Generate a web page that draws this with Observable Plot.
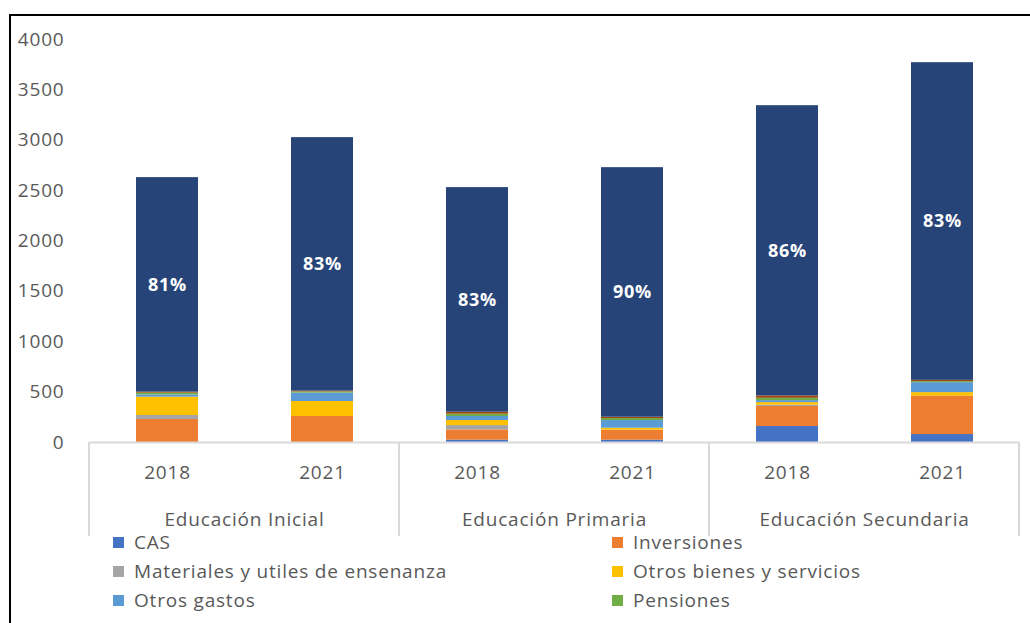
<!DOCTYPE html>
<html>
<head>
<meta charset="utf-8">
<script src="https://cdn.jsdelivr.net/npm/d3@7"></script>
<script src="https://cdn.jsdelivr.net/npm/@observablehq/plot@0.6"></script>
<style>
  html, body { margin: 0; padding: 0; background: #fff; overflow: hidden; width: 1030px; height: 623px; }
  #wrap { position: relative; width: 1030px; height: 623px; font-family: "Open Sans", sans-serif; color: #595959; }
  #chart { position: absolute; left: 0; top: 0; }
  #chart svg text { letter-spacing: 0.8px; }
  #frame { position: absolute; left: 9px; top: 14px; width: 1100px; height: 700px; border-left: 2px solid #000; border-top: 2px solid #000; pointer-events: none; }
  #legend { position: absolute; left: 0; top: 0; width: 1030px; height: 623px; overflow: hidden; pointer-events: none; }
  .item { position: absolute; display: flex; align-items: center; font-size: 19px; letter-spacing: 0.8px; white-space: nowrap; line-height: 20px; }
  .sw { width: 11px; height: 11px; margin-right: 10px; display: inline-block; }
</style>
</head>
<body>
<div id="wrap">
  <div id="chart"></div>
  <div id="legend"></div>
  <div id="frame"></div>
</div>
<script>
const groups = ["Educación Inicial", "Educación Primaria", "Educación Secundaria"];
const years = ["2018", "2021"];
const seriesNames = [
  "CAS", "Inversiones", "Materiales y utiles de ensenanza", "Otros bienes y servicios",
  "Otros gastos", "Pensiones", "Personal y obligaciones sociales", "Remuneraciones"
];
const seriesColors = ["#4472C4", "#ED7D31", "#A5A5A5", "#FFC000", "#5B9BD5", "#70AD47", "#9E480E", "#264478"];
// legend entries visible in the picture (the rest is cut off at the bottom edge)
const legendShown = 6;
// bar order: Inicial 2018, Inicial 2021, Primaria 2018, Primaria 2021, Secundaria 2018, Secundaria 2021
const CAS            = [0,    0,    23,   23,   159,  79];
const Inversiones    = [228,  258,  102,  99,   198,  380];
const Materiales     = [40,   0,    43,   0,    13,   0];
const OtrosBienes    = [182,  149,  50,   20,   26,   36];
const OtrosGastos    = [22,   83,   40,   76,   20,   99];
const Pensiones      = [18,   12,   23,   20,   23,   10];
const Personal       = [10,   8,    20,   13,   23,   13];
const Remuneraciones = [2129, 2516, 2229, 2477, 2881, 3153];
const pctLabels = ["81%", "83%", "83%", "90%", "86%", "83%"];
const yTicks = [0, 500, 1000, 1500, 2000, 2500, 3000, 3500, 4000];

const seriesValues = [CAS, Inversiones, Materiales, OtrosBienes, OtrosGastos, Pensiones, Personal, Remuneraciones];
const bars = [];
groups.forEach(g => years.forEach(y => bars.push({group: g, year: y})));

const rows = [];
seriesNames.forEach((s, si) => {
  bars.forEach((b, bi) => rows.push({group: b.group, year: b.year, serie: s, value: seriesValues[si][bi]}));
});

const labels = bars.map((b, bi) => {
  let base = 0;
  for (let si = 0; si < seriesValues.length - 1; si++) base += seriesValues[si][bi];
  const navy = Remuneraciones[bi];
  return {group: b.group, year: b.year, mid: base + navy / 2, pct: pctLabels[bi]};
});

const chart = Plot.plot({
  width: 1030,
  height: 545,
  marginTop: 39,
  marginBottom: 103,
  marginLeft: 89,
  marginRight: 11,
  style: {fontFamily: "'Open Sans', sans-serif", fontSize: "19px", color: "#595959", background: "transparent", overflow: "visible"},
  x: {domain: years, paddingInner: 0.6, paddingOuter: 0.3, label: null},
  fx: {domain: groups, padding: 0, label: null},
  y: {domain: [0, 4000], label: null},
  color: {domain: seriesNames, range: seriesColors},
  marks: [
    Plot.barY(rows, {fx: "group", x: "year", y: "value", fill: "serie"}),
    Plot.text(labels, {fx: "group", x: "year", y: "mid", text: "pct", fill: "white", fontWeight: "bold", fontSize: 18}),
    Plot.ruleY([0], {stroke: "#D9D9D9", strokeWidth: 2}),
    Plot.axisY({ticks: yTicks, tickFormat: d => String(d), tickSize: 0, tickPadding: 25, fontSize: 19, label: null, fill: "#595959"}),
    Plot.axisX({tickSize: 0, tickPadding: 23, fontSize: 19, label: null, fill: "#595959"}),
    Plot.axisFx({anchor: "bottom", tickSize: 0, tickPadding: 70, fontSize: 19, label: null, fill: "#595959"})
  ]
});

// category separators from the fx scale
const fxScale = chart.scale("fx");
const sepX = groups.map(g => fxScale.apply(g));
sepX.push(fxScale.apply(groups[groups.length - 1]) + fxScale.bandwidth);
const yScale = chart.scale("y");
const y0 = yScale.apply(0);
d3.select(chart).append("g").selectAll("line").data(sepX).join("line")
  .attr("x1", d => d).attr("x2", d => d)
  .attr("y1", y0).attr("y2", y0 + 94)
  .attr("stroke", "#D9D9D9").attr("stroke-width", 2);

document.getElementById("chart").appendChild(chart);

// legend (two columns)
const legend = document.getElementById("legend");
seriesNames.slice(0, legendShown).forEach((s, i) => {
  const col = i % 2, row = Math.floor(i / 2);
  const div = document.createElement("div");
  div.className = "item";
  div.style.left = (col === 0 ? 113 : 612) + "px";
  div.style.top = (532 + row * 29) + "px";
  div.innerHTML = `<span class="sw" style="background:${seriesColors[i]}"></span><span>${s}</span>`;
  legend.appendChild(div);
});
</script>
</body>
</html>
